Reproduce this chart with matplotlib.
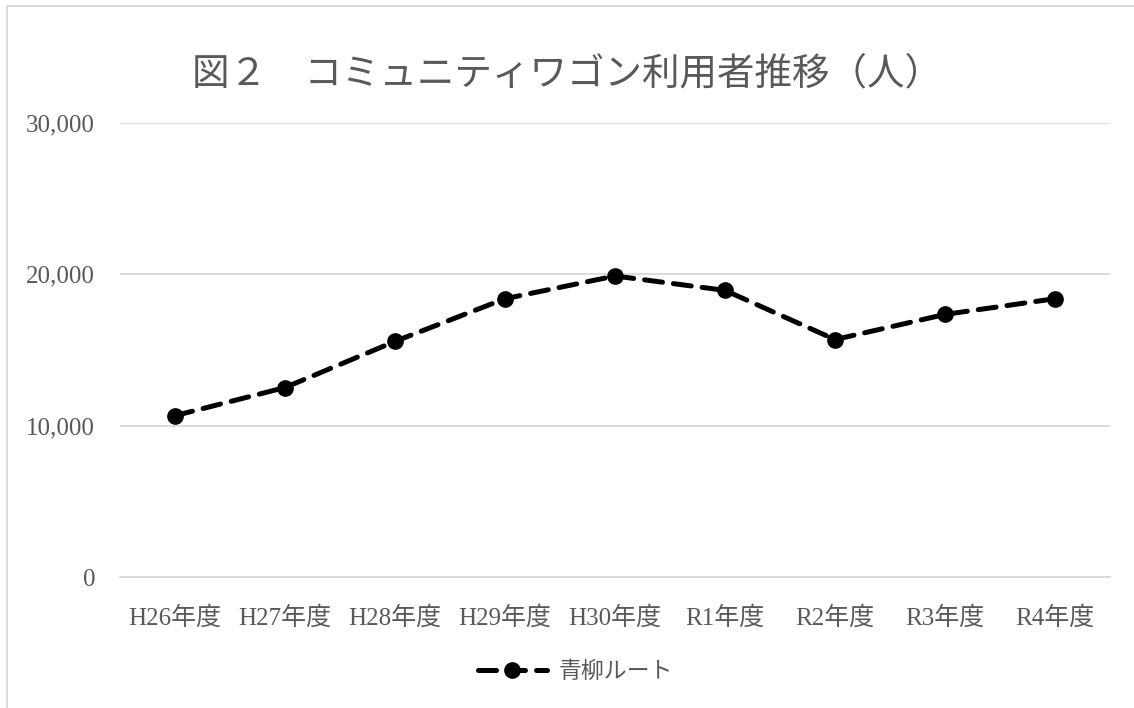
import matplotlib
matplotlib.use("Agg")
import matplotlib.pyplot as plt
from matplotlib.patches import Rectangle
from matplotlib.ticker import FuncFormatter

plt.rcParams['font.family'] = ['Liberation Serif', 'Noto Sans CJK JP', 'DejaVu Sans']

# データ
years = ['H26年度', 'H27年度', 'H28年度', 'H29年度', 'H30年度',
         'R1年度', 'R2年度', 'R3年度', 'R4年度']
users = [10660, 12520, 15570, 18390, 19890, 18940, 15690, 17350, 18390]
series_name = '青柳ルート'
title = '図２　コミュニティワゴン利用者推移（人）'

txt = '#595959'
grid = '#d9d9d9'

fig = plt.figure(figsize=(11.34, 7.08), dpi=100)
fig.patches.append(Rectangle((7 / 1134, -0.1), 1.2, 1 - 6 / 708 + 0.1,
                             transform=fig.transFigure, fill=False,
                             edgecolor=grid, lw=1.3))

ax = fig.add_axes([120 / 1134, 1 - 577 / 708, 990 / 1134, 454 / 708])
x = range(len(years))
ax.plot(x, users, color='black', lw=3.6, ls=(0, (3.6, 2.2)),
        dash_capstyle='round', marker='o', markersize=11, label=series_name)

ax.set_xlim(-0.5, len(years) - 0.5)
ax.set_ylim(0, 30000)
ax.set_yticks([0, 10000, 20000, 30000])
ax.yaxis.set_major_formatter(FuncFormatter(lambda v, p: f'{int(v):,}'))
ax.set_xticks(list(x))
ax.set_xticklabels(years)
ax.grid(axis='y', color=grid, lw=1.3)
ax.set_axisbelow(True)
for s in ['top', 'right', 'left']:
    ax.spines[s].set_visible(False)
ax.spines['bottom'].set_color(grid)
ax.spines['bottom'].set_linewidth(1.3)
ax.tick_params(length=0, colors=txt, labelsize=18)
ax.tick_params(axis='y', pad=18)
ax.tick_params(axis='x', pad=21)

fig.text(0.5, 1 - 75 / 708, title, ha='center', va='center',
         fontsize=27, color=txt)

ax.legend(loc='center', bbox_to_anchor=(0.46, -0.21), frameon=False,
          fontsize=16.5, labelcolor=txt, handlelength=3.0, handletextpad=0.5)

fig.savefig('out.png', dpi=100)
